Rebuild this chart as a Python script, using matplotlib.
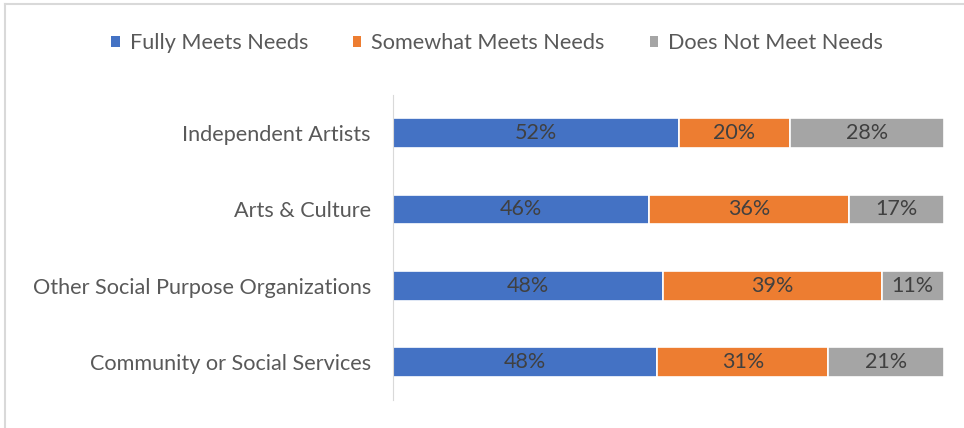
import matplotlib.pyplot as plt
from matplotlib.patches import Patch
from matplotlib.lines import Line2D

plt.rcParams['font.family'] = ['Lato', 'DejaVu Sans']

categories = ['Community or Social Services', 'Other Social Purpose Organizations',
              'Arts & Culture', 'Independent Artists']
fully = [48, 48, 46, 52]
somewhat = [31, 39, 36, 20]
not_meet = [21, 11, 17, 28]
series_names = ['Fully Meets Needs', 'Somewhat Meets Needs', 'Does Not Meet Needs']
colors = ['#4472C4', '#ED7D31', '#A5A5A5']

fig = plt.figure(figsize=(9.64, 4.28), dpi=100)
ax = fig.add_axes([0.4077, 0.0654, 0.979 - 0.4077, 0.778 - 0.0654])

# 100% stacked: each row scaled to its own total
ypos = range(len(categories))
totals = [a + b + d for a, b, d in zip(fully, somewhat, not_meet)]
left = [0.0] * len(categories)
for vals, name, c in zip([fully, somewhat, not_meet], series_names, colors):
    widths = [v / t for v, t in zip(vals, totals)]
    ax.barh(ypos, widths, left=left, height=0.39, color=c, edgecolor='white',
            linewidth=1.2, label=name)
    for y, l, w, v in zip(ypos, left, widths, vals):
        ax.text(l + w / 2, y, f'{v}%', ha='center', va='center',
                fontsize=15.5, color='#404040')
    left = [l + w for l, w in zip(left, widths)]

ax.set_xlim(0, 1)
ax.set_ylim(-0.5, 3.5)
ax.set_yticks(list(ypos))
ax.set_yticklabels(categories, fontsize=15.6, color='#595959')
ax.tick_params(axis='y', length=0, pad=16)
ax.set_xticks([])
for s in ['top', 'right', 'bottom']:
    ax.spines[s].set_visible(False)
ax.spines['left'].set_color('#D9D9D9')

handles = [Patch(facecolor=c, edgecolor='none') for c in colors]
fig.legend(handles, series_names, loc='center', bbox_to_anchor=(0.5156, 0.9),
           ncol=3, frameon=False, fontsize=15.6, handlelength=0.4, handleheight=0.4,
           columnspacing=2.07, handletextpad=0.46, labelcolor='#595959')

# outer chart frame
fig.add_artist(Line2D([0.005, 0.005], [0, 0.99], color='#D9D9D9', lw=1.5,
                      transform=fig.transFigure))
fig.add_artist(Line2D([0.005, 1], [0.99, 0.99], color='#D9D9D9', lw=1.5,
                      transform=fig.transFigure))

fig.savefig('out.png', dpi=100)
